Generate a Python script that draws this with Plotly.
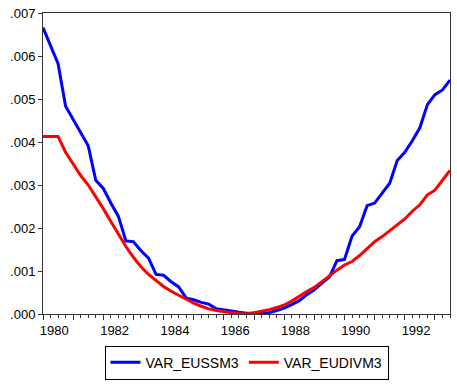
import plotly.graph_objects as go

start_year = 1980
quarters = list(range(55))  # 1980Q1 .. 1993Q3
x_vals = [start_year + q / 4 for q in quarters]

var_eussm3 = [6.66, 6.24, 5.82, 4.83, 4.52, 4.22, 3.91, 3.11, 2.92, 2.58,
              2.27, 1.70, 1.68, 1.47, 1.30, 0.92, 0.90, 0.75, 0.63, 0.37,
              0.33, 0.27, 0.23, 0.12, 0.10, 0.07, 0.04, 0.02, 0.02, 0.02,
              0.03, 0.08, 0.14, 0.22, 0.31, 0.45, 0.56, 0.72, 0.86, 1.24,
              1.27, 1.81, 2.03, 2.52, 2.58, 2.81, 3.04, 3.57, 3.76, 4.03,
              4.33, 4.87, 5.10, 5.21, 5.44]
var_eudivm3 = [4.13, 4.13, 4.13, 3.76, 3.48, 3.22, 3.00, 2.74, 2.45, 2.15,
               1.85, 1.57, 1.32, 1.10, 0.92, 0.77, 0.64, 0.53, 0.43, 0.34,
               0.25, 0.18, 0.12, 0.08, 0.05, 0.03, 0.01, 0.00, 0.03, 0.06,
               0.10, 0.15, 0.21, 0.30, 0.40, 0.52, 0.62, 0.76, 0.89, 1.02,
               1.14, 1.22, 1.36, 1.52, 1.68, 1.80, 1.94, 2.08, 2.21, 2.39,
               2.54, 2.77, 2.88, 3.11, 3.34]
var_eussm3 = [v / 1000 for v in var_eussm3]
var_eudivm3 = [v / 1000 for v in var_eudivm3]

year_labels = ["1980", "1982", "1984", "1986", "1988", "1990", "1992"]
y_ticks = [0.000, 0.001, 0.002, 0.003, 0.004, 0.005, 0.006, 0.007]
y_labels = [".000", ".001", ".002", ".003", ".004", ".005", ".006", ".007"]

font = dict(family="Liberation Sans, Arial, sans-serif", size=13, color="#000")
legend_font = dict(family="Liberation Sans, Arial, sans-serif", size=14, color="#000")

fig = go.Figure()
fig.add_trace(go.Scatter(x=x_vals, y=var_eussm3, mode="lines", name="VAR_EUSSM3",
                         line=dict(color="#0000ff", width=3)))
fig.add_trace(go.Scatter(x=x_vals, y=var_eudivm3, mode="lines", name="VAR_EUDIVM3",
                         line=dict(color="#ff0000", width=3)))
# invisible helper trace so the year-label axis is drawn
fig.add_trace(go.Scatter(x=x_vals, y=var_eudivm3, mode="lines", xaxis="x2",
                         line=dict(color="rgba(0,0,0,0)", width=0),
                         showlegend=False, hoverinfo="skip"))

x_range = [start_year, start_year + 54 / 4]
fig.update_layout(
    width=457, height=386,
    margin=dict(l=43, r=6, t=10, b=70),
    paper_bgcolor="white", plot_bgcolor="white",
    font=font,
    showlegend=True,
    legend=dict(orientation="h", x=0.5, xanchor="center", y=-0.105, yanchor="top",
                bordercolor="#000", borderwidth=1, font=legend_font,
                itemwidth=30, tracegroupgap=0),
    xaxis=dict(range=x_range, showgrid=False, zeroline=False,
               showline=True, linecolor="#333", linewidth=1, mirror=True,
               tickmode="linear", tick0=1980, dtick=1, ticks="outside",
               ticklen=5, tickcolor="#333", showticklabels=False,
               minor=dict(tickmode="linear", tick0=1980, dtick=0.25,
                          ticks="outside", ticklen=3, tickcolor="#333")),
    xaxis2=dict(range=x_range, overlaying="x", anchor="y", side="bottom",
                showgrid=False, zeroline=False, showline=False,
                tickmode="array",
                tickvals=[int(t) + 0.375 for t in year_labels],
                ticktext=year_labels, ticks="outside", ticklen=4,
                tickcolor="rgba(0,0,0,0)", tickfont=font),
    yaxis=dict(range=[0, 0.007], showgrid=False, zeroline=False,
               showline=True, linecolor="#333", linewidth=1, mirror=True,
               tickmode="array", tickvals=y_ticks, ticktext=y_labels,
               ticks="outside", ticklen=4, tickcolor="#333", tickfont=font),
)

fig.write_html("out.html")
